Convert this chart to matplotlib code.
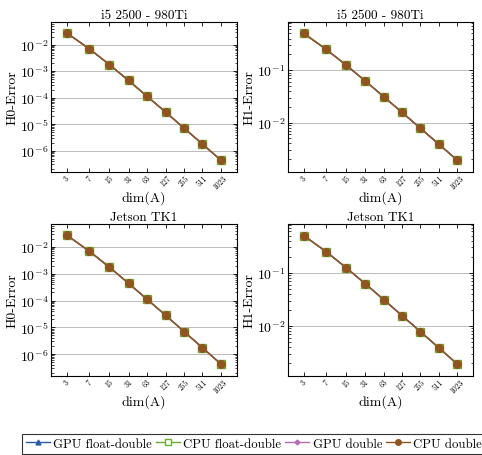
import numpy as np
import matplotlib
matplotlib.use("Agg")
import matplotlib.pyplot as plt
from matplotlib.lines import Line2D
from matplotlib.ticker import LogLocator, NullLocator

plt.rcParams["font.family"] = "cmr10"
plt.rcParams["mathtext.fontset"] = "cm"
plt.rcParams["axes.unicode_minus"] = False
plt.rcParams["axes.formatter.use_mathtext"] = True
plt.rcParams["font.size"] = 10

# data
dims = [3, 7, 15, 31, 63, 127, 255, 511, 1023]
h0_err = [2.7e-2, 6.9e-3, 1.75e-3, 4.4e-4, 1.1e-4, 2.8e-5, 7.0e-6, 1.75e-6, 4.4e-7]
h1_err = [0.5, 0.25, 0.125, 0.0625, 0.0312, 0.0156, 0.0078, 0.0039, 0.00195]
titles = ["i5 2500 - 980Ti", "Jetson TK1"]

series = ["GPU float-double", "CPU float-double", "GPU double", "CPU double"]
colors = ["#2a5d9f", "#6cae2e", "#b26fb2", "#8f5420"]
markers = ["^", "s", "D", "o"]
faces = ["#2a5d9f", "white", "#b26fb2", "#8f5420"]
msizes = [5, 6, 4, 5.5]

W, H = 482, 456
fig = plt.figure(figsize=(W / 100, H / 100), dpi=100)

def px_axes(x0, y0, x1, y1):
    return fig.add_axes([x0 / W, 1 - y1 / H, (x1 - x0) / W, (y1 - y0) / H])

boxes = [(51, 23, 237, 173), (288, 23, 473, 173),
         (51, 225, 237, 377), (288, 225, 473, 377)]

for k, (x0, y0, x1, y1) in enumerate(boxes):
    ax = px_axes(x0, y0, x1, y1)
    is_h0 = (k % 2 == 0)
    vals = h0_err if is_h0 else h1_err
    for s in range(4):
        ax.plot(dims, vals, color=colors[s], marker=markers[s], ms=msizes[s],
                mfc=faces[s], mec=colors[s], lw=1.0)
    ax.set_xscale("log")
    ax.set_yscale("log")
    ax.set_xlim(1.64, 1897)
    if is_h0:
        ax.set_ylim(10 ** -6.81, 10 ** -1.15)
        ax.set_ylabel("H0-Error", fontsize=10, labelpad=1)
    else:
        ax.set_ylim(10 ** -2.943, 10 ** -0.082)
        ax.set_ylabel("H1-Error", fontsize=10, labelpad=1)
    ax.yaxis.set_major_locator(LogLocator(base=10, numticks=20))
    ax.yaxis.set_minor_locator(LogLocator(base=10, subs=np.arange(2, 10), numticks=20))
    ax.set_xticks(dims)
    ax.set_xticklabels([str(d) for d in dims], rotation=45, fontsize=5.5)
    ax.xaxis.set_minor_locator(NullLocator())
    ax.grid(axis="y", which="major", color="#bbbbbb", lw=0.7)
    ax.tick_params(direction="in", top=True, right=True, length=3, width=0.6)
    ax.tick_params(which="minor", direction="in", right=True, length=1.8, width=0.5)
    ax.tick_params(axis="x", pad=1)
    ax.tick_params(axis="y", labelsize=10, pad=2)
    for sp in ax.spines.values():
        sp.set_linewidth(0.8)
    ax.set_xlabel("dim(A)", fontsize=10, labelpad=0)
    ax.set_title(titles[k // 2], fontsize=9.5, pad=3)

handles = [Line2D([], [], color=colors[s], marker=markers[s], ms=msizes[s] - 1.5,
                  mfc=faces[s], mec=colors[s], lw=1.0) for s in range(4)]
leg = fig.legend(handles, series, loc="upper left", bbox_to_anchor=(22 / W, 1 - 435 / H),
                 ncol=4, frameon=True, fancybox=False, edgecolor="black",
                 handlelength=1.9, handletextpad=0.25, columnspacing=0.3,
                 borderpad=0.3, borderaxespad=0, fontsize=9.2)
leg.get_frame().set_linewidth(0.8)

fig.savefig("out.png", dpi=100)
